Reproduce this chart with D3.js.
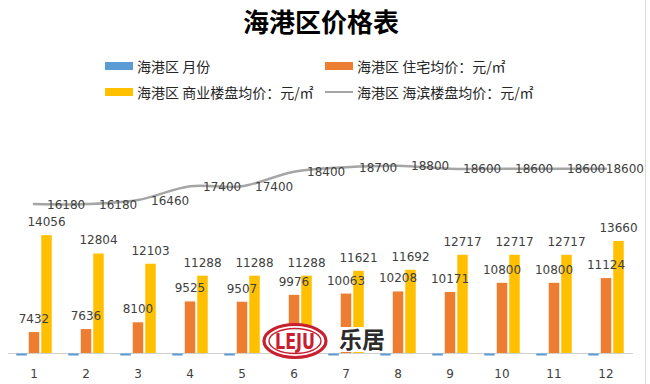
<!DOCTYPE html>
<html>
<head>
<meta charset="utf-8">
<script src="https://cdn.jsdelivr.net/npm/d3@7/dist/d3.min.js"></script>
<style>
  html, body { margin: 0; padding: 0; background: #fff; }
  svg { display: block; }
</style>
</head>
<body>
<svg id="chart" width="650" height="384"></svg>
<script>
// ---- data ----
const months = ["1","2","3","4","5","6","7","8","9","10","11","12"];
const monthValues = [1,2,3,4,5,6,7,8,9,10,11,12];
const residentialAvg = [7432,7636,8100,9525,9507,9976,10063,10208,10171,10800,10800,11124];
const commercialAvg = [14056,12804,12103,11288,11288,11288,11621,11692,12717,12717,12717,13660];
const seasideAvg = [16180,16180,16460,17400,17400,18400,18700,18800,18600,18600,18600,18600];
const seriesNames = ["海港区 月份","海港区 住宅均价：元/㎡","海港区 商业楼盘均价：元/㎡","海港区 海滨楼盘均价：元/㎡"];
const titleText = "海港区价格表";

const colors = {month:"#5B9BD5", res:"#ED7D31", com:"#FFC000", sea:"#A5A5A5"};
const svg = d3.select("#chart");
const numFont = "'DejaVu Sans', Verdana, sans-serif";
const cjkFont = "'Noto Sans CJK SC', 'Noto Sans', sans-serif";

// ---- scales ----
const x = d3.scaleBand().domain(months).range([8, 632]).padding(0);
const inner = d3.scaleBand().domain(["month","res","com"]).range([0, x.bandwidth()])
  .paddingInner(0.16).paddingOuter(0.66);
const y = d3.scaleLinear().domain([6000, 22000]).range([353, 119]).clamp(true);

// right border line
svg.append("line").attr("x1",645.5).attr("x2",645.5).attr("y1",0).attr("y2",384)
  .attr("stroke","#D9D9D9").attr("stroke-width",1);

// ---- title ----
svg.append("text").attr("x",321).attr("y",32).attr("text-anchor","middle")
  .attr("font-family",cjkFont).attr("font-weight",700).attr("font-size",26)
  .attr("fill","#000").text(titleText);

// ---- legend ----
const legendItems = [
  {name:seriesNames[0], color:colors.month, type:"rect", x:105, y:66},
  {name:seriesNames[1], color:colors.res, type:"rect", x:325, y:66},
  {name:seriesNames[2], color:colors.com, type:"rect", x:105, y:92},
  {name:seriesNames[3], color:colors.sea, type:"line", x:325, y:92}
];
legendItems.forEach(it => {
  if (it.type === "rect") {
    svg.append("rect").attr("x",it.x).attr("y",it.y-4).attr("width",28).attr("height",8).attr("fill",it.color);
  } else {
    svg.append("line").attr("x1",it.x).attr("x2",it.x+28).attr("y1",it.y).attr("y2",it.y)
      .attr("stroke",it.color).attr("stroke-width",2);
  }
  svg.append("text").attr("x",it.x+32).attr("y",it.y+1).attr("dy","0.33em")
    .attr("font-family",cjkFont).attr("font-size",14).attr("fill","#262626").text(it.name);
});

// ---- axis ----
const xAxis = d3.axisBottom(x).tickSize(0).tickPadding(0);
const gx = svg.append("g").attr("transform","translate(0,353.5)").call(xAxis);
gx.select(".domain").attr("stroke","#D0D0D0").attr("stroke-width",1.2).attr("d","M8,0H633");
gx.selectAll("text").attr("font-family",numFont).attr("font-size",12).attr("fill","#404040")
  .attr("dy",0).attr("y",24);

// ---- bars ----
const barData = months.map((m,i) => ({m, month:monthValues[i], res:residentialAvg[i], com:commercialAvg[i]}));

// month bars (values below axis minimum -> thin slivers at the axis)
svg.append("g").selectAll("rect").data(barData).join("rect")
  .attr("x", d => x(d.m) + inner("month"))
  .attr("y", d => y(d.month) + 0.5)
  .attr("width", inner.bandwidth())
  .attr("height", 2)
  .attr("fill", colors.month);

["res","com"].forEach(k => {
  svg.append("g").selectAll("rect").data(barData).join("rect")
    .attr("x", d => x(d.m) + inner(k))
    .attr("y", d => y(d[k]))
    .attr("width", inner.bandwidth())
    .attr("height", d => y(6000) - y(d[k]))
    .attr("fill", colors[k]);
});

// ---- line ----
const cx = m => x(m) + x.bandwidth()/2;
const lineGen = d3.line().x((d,i) => cx(months[i])).y(d => y(d)).curve(d3.curveCatmullRom.alpha(0.5));
svg.append("path").datum(seasideAvg).attr("d", lineGen)
  .attr("fill","none").attr("stroke",colors.sea).attr("stroke-width",2.5).attr("stroke-linecap","round");

// ---- logo watermark ----
const logo = svg.append("g");
logo.append("ellipse").attr("cx",295).attr("cy",341).attr("rx",31).attr("ry",16.5)
  .attr("fill","#fff").attr("stroke","#C8202F").attr("stroke-width",3.2);
logo.append("ellipse").attr("cx",295).attr("cy",341).attr("rx",26).attr("ry",12.5)
  .attr("fill","none").attr("stroke","#C8202F").attr("stroke-width",1.4);
logo.append("text").attr("x",295).attr("y",349).attr("text-anchor","middle")
  .attr("font-family","'Liberation Sans Narrow','DejaVu Sans Condensed',sans-serif")
  .attr("font-weight",700).attr("font-size",22).attr("textLength",40).attr("lengthAdjust","spacingAndGlyphs")
  .attr("fill","#C8202F").text("LEJU");
logo.append("rect").attr("x",337).attr("y",327).attr("width",52).attr("height",25).attr("fill","#fff");
logo.append("text").attr("x",339).attr("y",348).attr("font-family",cjkFont).attr("font-weight",700)
  .attr("font-size",23).attr("fill","#2b2b2b").text("乐居");

// ---- data labels ----
const lblStyle = sel => sel.attr("font-family",numFont).attr("font-size",12).attr("fill","#404040");

["res","com"].forEach(k => {
  svg.append("g").selectAll("text").data(barData).join("text")
    .attr("x", d => x(d.m) + inner(k) + inner.bandwidth()/2)
    .attr("y", d => y(d[k]) - 9)
    .attr("text-anchor","middle")
    .call(lblStyle)
    .text(d => d[k]);
});

svg.append("g").selectAll("text").data(seasideAvg).join("text")
  .call(lblStyle)
  .attr("y", d => y(d) + 4.5)
  .text(d => d)
  .attr("x", function(d,i){
    const w = this.getComputedTextLength();
    return Math.min(cx(months[i]) + 13, 644 - w);
  });
</script>
</body>
</html>
